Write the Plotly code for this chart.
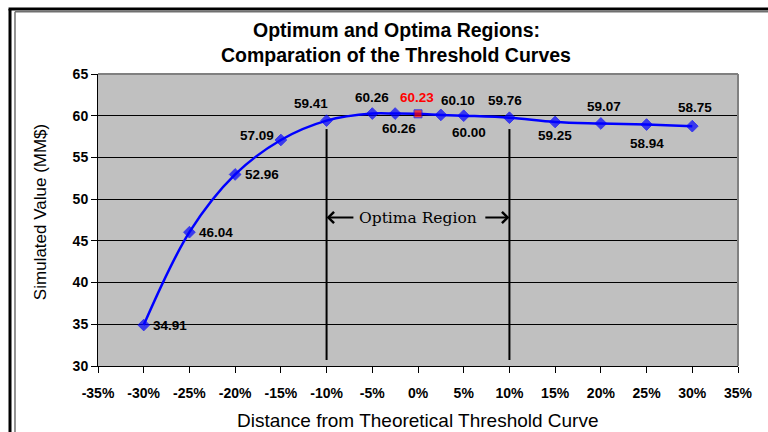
import plotly.graph_objects as go

# ---- data ----
x_vals = [-0.30, -0.25, -0.20, -0.15, -0.10, -0.05, -0.025, 0.0, 0.025, 0.05, 0.10, 0.15, 0.20, 0.25, 0.30]
y_vals = [34.91, 46.04, 52.96, 57.09, 59.41, 60.26, 60.26, 60.23, 60.10, 60.00, 59.76, 59.25, 59.07, 58.94, 58.75]
# label offsets in pixels (dx right, dy up) relative to each point
label_dx = [26, 27, 27, -24, -16, 0, 4, -1, 17, 5, -4, 0, 3, 0, 3]
label_dy = [0, 0, 0, 4, 17, 16, -15, 16, 14, -17, 17, -14, 17, -19, 19]
optimum_x = 0.0
region_bounds = [-0.10, 0.10]
x_ticks = [-0.35, -0.30, -0.25, -0.20, -0.15, -0.10, -0.05, 0.0, 0.05, 0.10, 0.15, 0.20, 0.25, 0.30, 0.35]
x_tick_text = ["-35%", "-30%", "-25%", "-20%", "-15%", "-10%", "-5%", "0%", "5%", "10%",
               "15%", "20%", "25%", "30%", "35%"]
y_ticks = [30, 35, 40, 45, 50, 55, 60, 65]

title_lines = ["Optimum and Optima Regions:", "Comparation of the Threshold Curves"]
x_title = "Distance from Theoretical Threshold Curve"
y_title = "Simulated Value (MM$)"
region_label = "Optima Region"

BLUE = "#0000FF"
RED = "#FF0000"
SANS = "Liberation Sans, Arial"

marker_colors = [RED if x == optimum_x else BLUE for x in x_vals]
marker_symbols = ["square" if x == optimum_x else "diamond" for x in x_vals]
marker_sizes = [8 if x == optimum_x else 9 for x in x_vals]
text_colors = [RED if x == optimum_x else "black" for x in x_vals]

fig = go.Figure()
fig.add_trace(go.Scatter(
    x=x_vals, y=y_vals,
    mode="lines+markers",
    line=dict(color=BLUE, width=2.5, shape="spline", smoothing=1.0),
    marker=dict(color=marker_colors, symbol=marker_symbols, size=marker_sizes),
    hoverinfo="skip",
    showlegend=False,
    cliponaxis=False,
))

shapes = []
# optima region vertical lines
for b in region_bounds:
    shapes.append(dict(type="line", xref="x", yref="y", x0=b, x1=b, y0=30.72, y1=58.4,
                       line=dict(color="black", width=2), layer="above"))
# plot area gray border (top & right)
shapes.append(dict(type="line", xref="paper", yref="paper", x0=0, x1=1, y0=1, y1=1,
                   line=dict(color="#808080", width=2), layer="above"))
shapes.append(dict(type="line", xref="paper", yref="paper", x0=1, x1=1, y0=0, y1=1,
                   line=dict(color="#808080", width=2), layer="above"))
# outer chart frame (double line)
shapes.append(dict(type="line", xref="paper", yref="paper", x0=-0.1375, x1=-0.1375, y0=-0.3, y1=1.2226,
                   line=dict(color="black", width=3)))
shapes.append(dict(type="line", xref="paper", yref="paper", x0=-0.1398, x1=1.1, y0=1.2226, y1=1.2226,
                   line=dict(color="black", width=3)))
shapes.append(dict(type="line", xref="paper", yref="paper", x0=-0.1297, x1=-0.1297, y0=-0.3, y1=1.213,
                   line=dict(color="#707070", width=1.5)))
shapes.append(dict(type="line", xref="paper", yref="paper", x0=-0.1297, x1=1.1, y0=1.213, y1=1.213,
                   line=dict(color="#707070", width=1.5)))

annotations = []
# data labels
for x, y, dx, dy, c in zip(x_vals, y_vals, label_dx, label_dy, text_colors):
    annotations.append(dict(text=f"<b>{y:.2f}</b>", xref="x", yref="y", x=x, y=y,
                            xshift=dx, yshift=dy, xanchor="center", yanchor="middle",
                            showarrow=False, font=dict(family=SANS, size=13.5, color=c)))
# titles
annotations.append(dict(text=f"<b>{title_lines[0]}</b>", xref="paper", yref="paper", x=0.466, y=1.1507,
                        xanchor="center", yanchor="middle", showarrow=False,
                        font=dict(family=SANS, size=19.5, color="black")))
annotations.append(dict(text=f"<b>{title_lines[1]}</b>", xref="paper", yref="paper", x=0.466, y=1.0651,
                        xanchor="center", yanchor="middle", showarrow=False,
                        font=dict(family=SANS, size=19.5, color="black")))
# axis titles
annotations.append(dict(text=x_title, xref="paper", yref="paper", x=0.5, y=-0.185,
                        xanchor="center", yanchor="middle", showarrow=False,
                        font=dict(family=SANS, size=19, color="black")))
annotations.append(dict(text=y_title, xref="paper", yref="paper", x=-0.0906, y=0.527,
                        xanchor="center", yanchor="middle", showarrow=False, textangle=-90,
                        font=dict(family=SANS, size=17, color="black")))
# optima region label & arrows
annotations.append(dict(text=region_label, xref="x", yref="y", x=0.0, y=47.8,
                        xanchor="center", yanchor="middle", showarrow=False,
                        font=dict(family="DejaVu Serif", size=15.5, color="black")))
annotations.append(dict(text="", xref="x", yref="y", axref="x", ayref="y",
                        x=region_bounds[0], y=47.8, ax=-0.069, ay=47.8,
                        showarrow=True, arrowhead=4, arrowsize=1.1, arrowwidth=2, arrowcolor="black"))
annotations.append(dict(text="", xref="x", yref="y", axref="x", ayref="y",
                        x=region_bounds[1], y=47.8, ax=0.072, ay=47.8,
                        showarrow=True, arrowhead=4, arrowsize=1.1, arrowwidth=2, arrowcolor="black"))

fig.update_layout(
    width=768, height=432,
    margin=dict(l=98, r=30, t=74, b=66),
    paper_bgcolor="white",
    plot_bgcolor="#C0C0C0",
    shapes=shapes,
    annotations=annotations,
    font=dict(family=SANS, color="black"),
)
fig.update_xaxes(
    range=[-0.35, 0.35], tickvals=x_ticks, ticktext=x_tick_text,
    showgrid=False, zeroline=False,
    showline=True, linecolor="black", linewidth=1,
    ticks="outside", ticklen=6, tickcolor="black", tickwidth=1,
    tickfont=dict(family=SANS, size=14, color="black", weight="bold"),
    ticklabelstandoff=8,
)
fig.update_yaxes(
    range=[30, 65], tickvals=y_ticks,
    showgrid=True, gridcolor="black", gridwidth=1, zeroline=False,
    showline=True, linecolor="black", linewidth=1,
    ticks="outside", ticklen=6, tickcolor="black", tickwidth=1,
    tickfont=dict(family=SANS, size=14, color="black", weight="bold"),
)

fig.write_html(
    "out.html",
    config={"displayModeBar": False},
    post_script="document.body.style.margin='0';document.body.style.overflow='hidden';",
)
